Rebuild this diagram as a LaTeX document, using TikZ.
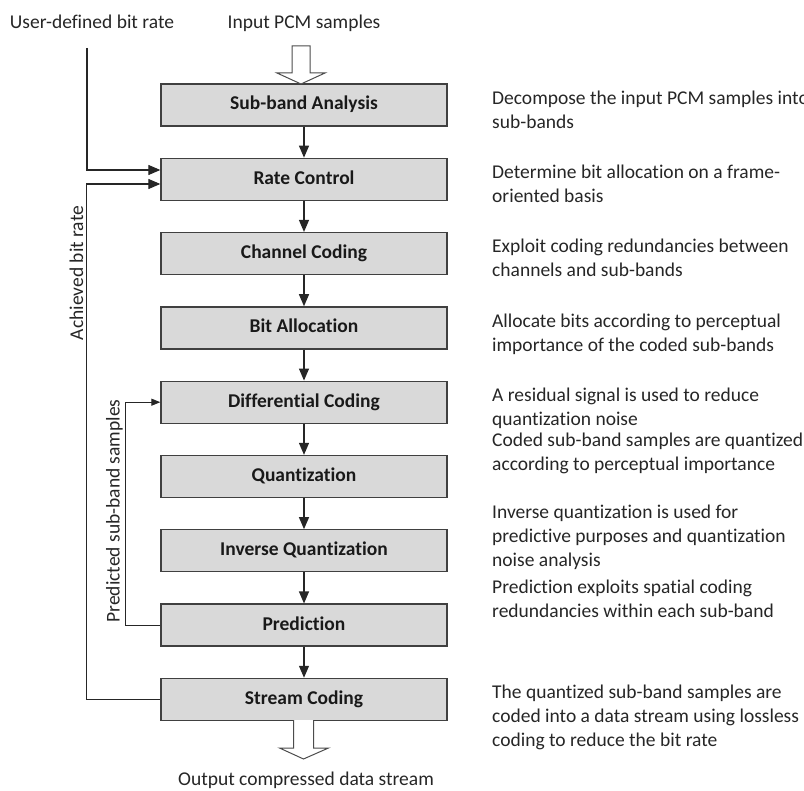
\documentclass[tikz,border=0pt]{standalone}
\usepackage{fontspec}
\setmainfont{Carlito}[Ligatures=NoCommon]
\usetikzlibrary{arrows.meta}
\begin{document}
\begin{tikzpicture}[x=1pt,y=-1pt,
  font=\fontsize{19.5}{24}\selectfont,
  stage/.style={draw=black!75, line width=1.3pt, fill=black!15,
    minimum width=286pt, minimum height=42pt, inner sep=0pt,
    text height=14pt, text depth=4pt,
    font=\fontsize{19.5}{24}\selectfont\bfseries, text=black!90},
  flow/.style={draw=black!85, line width=1.2pt,
    -{Triangle[length=12pt,width=10pt]}},
  feedback/.style={draw=black!85, line width=1.1pt,
    -{Triangle[length=12pt,width=10pt]}},
  loopback/.style={draw=black!85, line width=0.9pt,
    -{Triangle[length=9pt,width=7pt]}},
  hollow/.style={draw=black!70, fill=white, line width=1pt, line join=miter},
  note/.style={anchor=west, align=left, inner sep=0pt, text=black!85,
    execute at begin node=\strut, execute at end node=\strut},
  caption/.style={anchor=base, inner sep=0pt, text=black!85},
  sidelabel/.style={rotate=90, inner sep=0pt, text=black!85}
]
\useasboundingbox (0,0) rectangle (804,791);

% processing stages
\node[stage] (sa) at (304,105.0) {Sub-band Analysis};
\node[stage] (rc) at (304,179.3) {Rate Control};
\node[stage] (cc) at (304,253.6) {Channel Coding};
\node[stage] (ba) at (304,327.9) {Bit Allocation};
\node[stage] (dc) at (304,402.2) {Differential Coding};
\node[stage] (qz) at (304,476.5) {Quantization};
\node[stage] (iq) at (304,550.8) {Inverse Quantization};
\node[stage] (pr) at (304,625.1) {Prediction};
\node[stage] (sc) at (304,699.4) {Stream Coding};

% main flow
\draw[flow] (sa) -- (rc);
\draw[flow] (rc) -- (cc);
\draw[flow] (cc) -- (ba);
\draw[flow] (ba) -- (dc);
\draw[flow] (dc) -- (qz);
\draw[flow] (qz) -- (iq);
\draw[flow] (iq) -- (pr);
\draw[flow] (pr) -- (sc);

% input and output block arrows
\coordinate (intip) at (301,84);
\draw[hollow] (intip) ++(-9,-38) -- ++(0,27) -- ++(-15,0) -- (intip)
  -- ++(24,-11) -- ++(-15,0) -- ++(0,-27) -- cycle;
\coordinate (outtip) at (303.5,759);
\fill[white] (outtip) ++(-10,-39) -- ++(0,28) -- ++(-14,0) -- (outtip)
  -- ++(25,-11) -- ++(-15,0) -- ++(0,-28) -- cycle;
\draw[hollow, fill=none] (outtip) ++(-10,-39) -- ++(0,28) -- ++(-14,0) -- (outtip)
  -- ++(25,-11) -- ++(-15,0) -- ++(0,-28);

% top and bottom captions
\node[caption] (ubr) at (92,28.6) {User-defined bit rate};
\node[caption] (ipcm) at (304,28.6) {Input PCM samples};
\node[caption] (ocds) at (306,785.5) {Output compressed data stream};

% bit-rate inputs to rate control
\coordinate (ustart) at (87,48);
\draw[feedback] (ustart) |- ([yshift=9.3pt]rc.west);
\draw[feedback] (sc.west) -- ++(-74,0) |- ([yshift=-4.7pt]rc.west);
\node[sidelabel] (abr) at (76.5,273) {Achieved bit rate};

% prediction loop
\draw[loopback] (pr.west) -- ++(-35,0) |- (dc.west);
\node[sidelabel] (psb) at (114.5,511) {Predicted sub-band samples};

% stage descriptions
\node[note] (n1) at (492,113) {Decompose the input PCM samples into\\sub-bands};
\node[note] (n2) at (492,187) {Determine bit allocation on a frame-\\oriented basis};
\node[note] (n3) at (492,261) {Exploit coding redundancies between\\channels and sub-bands};
\node[note] (n4) at (492,336) {Allocate bits according to perceptual\\importance of the coded sub-bands};
\node[note] (n5) at (492,410) {A residual signal is used to reduce\\quantization noise};
\node[note] (n6) at (492,455) {Coded sub-band samples are quantized\\according to perceptual importance};
\node[note] (n7) at (492,539) {Inverse quantization is used for\\predictive purposes and quantization\\noise analysis};
\node[note] (n8) at (492,602) {Prediction exploits spatial coding\\redundancies within each sub-band};
\node[note] (n9) at (492,719) {The quantized sub-band samples are\\coded into a data stream using lossless\\coding to reduce the bit rate};
\end{tikzpicture}
\end{document}
